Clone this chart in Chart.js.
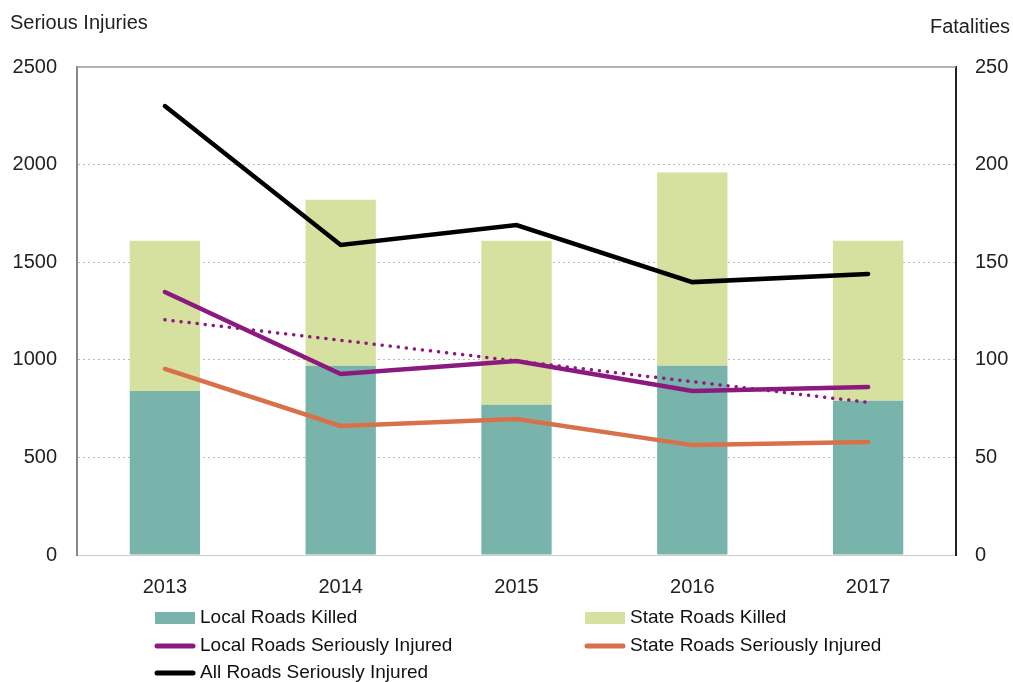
<!DOCTYPE html>
<html>
<head>
<meta charset="utf-8">
<script src="https://cdn.jsdelivr.net/npm/chart.js@4.4.1/dist/chart.umd.min.js"></script>
<style>
html,body{margin:0;padding:0;background:#fff;}
#wrap{width:1013px;height:682px;position:relative;}
</style>
</head>
<body>
<div id="wrap"><canvas id="c" width="1013" height="682"></canvas></div>
<script>
const years = ['2013', '2014', '2015', '2016', '2017'];
const localRoadsKilled = [84, 97, 77, 97, 79];
const stateRoadsKilled = [77, 85, 84, 99, 82];
const allRoadsSeriouslyInjured = [2300, 1588, 1690, 1398, 1440];
const localRoadsSeriouslyInjured = [1347, 927, 994, 840, 861];
const stateRoadsSeriouslyInjured = [953, 661, 697, 563, 579];
const localRoadsSITrend = [1205, 1100, 994, 888, 782];
const injuryTicks = [0, 500, 1000, 1500, 2000, 2500];
const fatalityTicks = [0, 50, 100, 150, 200, 250];

const FONT = 'Helvetica, "Liberation Sans", Arial, sans-serif';

const titlesPlugin = {
  id: 'titles',
  afterDraw(chart) {
    const ctx = chart.ctx;
    const ca = chart.chartArea;
    ctx.save();
    ctx.strokeStyle = '#999';
    ctx.lineWidth = 1.5;
    ctx.beginPath();
    ctx.moveTo(ca.left, ca.top);
    ctx.lineTo(ca.right, ca.top);
    ctx.stroke();
    ctx.fillStyle = '#222';
    ctx.font = '20px ' + FONT;
    ctx.textBaseline = 'middle';
    ctx.textAlign = 'left';
    ctx.fillText('Serious Injuries', 10, 23);
    ctx.textAlign = 'right';
    ctx.fillText('Fatalities', 1010, 27);
    const cols = [155, 585];
    const rows = [618, 646, 673];
    const items = chart.data.datasets.filter(d => d.inLegend);
    ctx.font = '19px ' + FONT;
    ctx.textAlign = 'left';
    items.forEach((d, i) => {
      const x = cols[i % 2];
      const y = rows[Math.floor(i / 2)];
      if (d.type === 'bar') {
        ctx.fillStyle = d.backgroundColor;
        ctx.fillRect(x, y - 6, 40, 12);
      } else {
        ctx.strokeStyle = d.borderColor;
        ctx.lineWidth = 5;
        ctx.lineCap = 'round';
        ctx.beginPath();
        ctx.moveTo(x + 2, y);
        ctx.lineTo(x + 38, y);
        ctx.stroke();
      }
      ctx.fillStyle = '#111';
      ctx.fillText(d.label, x + 45, y);
    });
    ctx.restore();
  }
};

const lineBase = {
  type: 'line',
  yAxisID: 'y',
  borderWidth: 4.5,
  pointRadius: 0,
  pointHoverRadius: 0,
  tension: 0,
  borderCapStyle: 'round',
  borderJoinStyle: 'miter',
  fill: false,
  order: 1
};

new Chart(document.getElementById('c'), {
  data: {
    labels: years,
    datasets: [
      { type: 'bar', label: 'Local Roads Killed', data: localRoadsKilled, yAxisID: 'y1',
        backgroundColor: '#79B4AC', barPercentage: 0.4, categoryPercentage: 1.0, stack: 'k', order: 10, inLegend: true },
      { type: 'bar', label: 'State Roads Killed', data: stateRoadsKilled, yAxisID: 'y1',
        backgroundColor: '#D6E09F', barPercentage: 0.4, categoryPercentage: 1.0, stack: 'k', order: 10, inLegend: true },
      Object.assign({}, lineBase, { label: 'Local Roads Seriously Injured', data: localRoadsSeriouslyInjured, borderColor: '#8B1A7E', inLegend: true }),
      Object.assign({}, lineBase, { label: 'State Roads Seriously Injured', data: stateRoadsSeriouslyInjured, borderColor: '#D8714A', inLegend: true }),
      Object.assign({}, lineBase, { label: 'All Roads Seriously Injured', data: allRoadsSeriouslyInjured, borderColor: '#000000', inLegend: true }),
      Object.assign({}, lineBase, { label: 'Local Roads Seriously Injured (trend)', data: localRoadsSITrend, borderColor: '#8B1A7E',
        borderWidth: 3.5, borderDash: [0.1, 8], order: 2, inLegend: false })
    ]
  },
  options: {
    responsive: false,
    animation: false,
    devicePixelRatio: 1,
    layout: { padding: { top: 67, left: 0, right: 0, bottom: 0 } },
    plugins: { legend: { display: false }, tooltip: { enabled: false } },
    scales: {
      x: {
        stacked: true,
        grid: { display: false },
        border: { display: true, color: '#ccc', width: 1 },
        ticks: { color: '#222', font: { size: 20, family: FONT }, padding: 12 },
        afterFit(s) { s.height = 127; }
      },
      y: {
        position: 'left',
        min: 0, max: 2500,
        afterBuildTicks(s) { s.ticks = injuryTicks.map(v => ({ value: v })); },
        grid: {
          drawTicks: false,
          color: c => (c.tick && (c.tick.value === 0 || c.tick.value === 2500)) ? 'rgba(0,0,0,0)' : '#bbb',
          lineWidth: 1
        },
        border: { display: true, color: '#888', width: 2, dash: [2, 3] },
        ticks: { color: '#222', font: { size: 20, family: FONT }, padding: 20, callback: v => String(v) },
        afterFit(s) { s.width = 77; }
      },
      y1: {
        position: 'right',
        stacked: true,
        min: 0, max: 250,
        afterBuildTicks(s) { s.ticks = fatalityTicks.map(v => ({ value: v })); },
        grid: { drawOnChartArea: false, drawTicks: false },
        border: { display: true, color: '#222', width: 2 },
        ticks: { color: '#222', font: { size: 20, family: FONT }, padding: 19, callback: v => String(v) },
        afterFit(s) { s.width = 57; }
      }
    }
  },
  plugins: [titlesPlugin]
});
</script>
</body>
</html>
